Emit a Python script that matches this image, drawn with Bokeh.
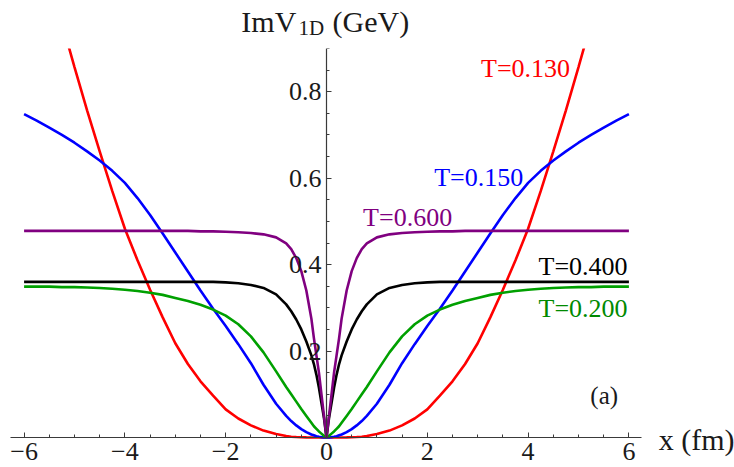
from bokeh.plotting import figure
from bokeh.layouts import column
from bokeh.models import Range1d, FixedTicker, Label, CustomJSTickFormatter
from bokeh.embed import file_html
from bokeh.resources import INLINE

# ---- data (curves are even in x; values for x >= 0) ----
x_half = [0.0, 0.05, 0.1, 0.15, 0.2, 0.25, 0.3, 0.4, 0.5, 0.6, 0.7, 0.8, 1.0,
          1.25, 1.5, 1.75, 2.0, 2.25, 2.5, 2.75, 3.0, 3.25, 3.5, 3.75, 4.0,
          4.25, 4.5, 4.75, 5.0, 5.25, 5.5, 5.75, 6.0]

imv_t0130 = [0.0, 0.0, 0.0, 0.0, 0.0, 0.0, 0.0001, 0.0002, 0.0005, 0.001, 0.0019, 0.0033, 0.008,
             0.016, 0.028, 0.044, 0.065, 0.097, 0.13, 0.17, 0.218, 0.278, 0.342, 0.41, 0.483,
             0.57, 0.662, 0.757, 0.857, 0.96, 1.065, 1.17, 1.28]

imv_t0150 = [0.0, 0.0002, 0.0008, 0.0018, 0.003, 0.005, 0.007, 0.0125, 0.0195, 0.028, 0.038, 0.05, 0.078,
             0.122, 0.172, 0.216, 0.258, 0.298, 0.34, 0.384, 0.428, 0.472, 0.515, 0.554, 0.589,
             0.617, 0.641, 0.662, 0.682, 0.7, 0.717, 0.733, 0.748]

imv_t0200 = [0.0, 0.004, 0.009, 0.014, 0.02, 0.026, 0.034, 0.05, 0.066, 0.083, 0.1, 0.117, 0.153,
             0.197, 0.234, 0.262, 0.282, 0.296, 0.307, 0.316, 0.323, 0.33, 0.335, 0.339, 0.342,
             0.344, 0.346, 0.347, 0.348, 0.348, 0.349, 0.349, 0.349]

imv_t0400 = [0.0, 0.045, 0.08, 0.115, 0.145, 0.17, 0.19, 0.222, 0.25, 0.273, 0.292, 0.308, 0.331,
             0.346, 0.353, 0.357, 0.359, 0.36, 0.36, 0.36, 0.36, 0.36, 0.36, 0.36, 0.36,
             0.36, 0.36, 0.36, 0.36, 0.36, 0.36, 0.36, 0.36]

imv_t0600 = [0.0, 0.05, 0.1, 0.15, 0.19, 0.23, 0.275, 0.34, 0.385, 0.415, 0.436, 0.449, 0.463,
             0.47, 0.473, 0.475, 0.476, 0.477, 0.477, 0.478, 0.478, 0.478, 0.478, 0.478, 0.478,
             0.478, 0.478, 0.478, 0.478, 0.478, 0.478, 0.478, 0.478]

series_names = ["T=0.130", "T=0.150", "T=0.200", "T=0.400", "T=0.600"]
series_values = [imv_t0130, imv_t0150, imv_t0200, imv_t0400, imv_t0600]

x_major_ticks = [-6, -4, -2, 0, 2, 4, 6]
x_minor_ticks = [-6, -5.5, -5, -4.5, -4, -3.5, -3, -2.5, -2, -1.5, -1, -0.5, 0,
                 0.5, 1, 1.5, 2, 2.5, 3, 3.5, 4, 4.5, 5, 5.5, 6]
y_major_ticks = [0.2, 0.4, 0.6, 0.8]
y_minor_ticks = [0.05, 0.1, 0.15, 0.2, 0.25, 0.3, 0.35, 0.4, 0.45, 0.5, 0.55, 0.6,
                 0.65, 0.7, 0.75, 0.8, 0.85, 0.9]


def mirror(half):
    # full curve from the even symmetry of the plotted functions
    return [v for v in reversed(half[1:])] + list(half)


x_full = [-v for v in reversed(x_half[1:])] + list(x_half)

# ---- styling ----
colors = {"T=0.130": "#ff0000", "T=0.150": "#0000ff", "T=0.200": "#00a000",
          "T=0.400": "#000000", "T=0.600": "#800080"}
text_colors = {"T=0.130": "#ff0000", "T=0.150": "#0000ff", "T=0.200": "#008a00",
               "T=0.400": "#000000", "T=0.600": "#800080"}
label_pos = {"T=0.130": (3.95, 0.853), "T=0.150": (3.02, 0.601), "T=0.600": (1.61, 0.509),
             "T=0.400": (5.09, 0.395), "T=0.200": (5.09, 0.299)}
FONT = "Liberation Serif"
AXIS_COLOR = "#3a3a3a"
TEXT_COLOR = "#1a1a1a"

x_range = Range1d(-6.468, 8.095)

# main plotting area: frame covers the whole canvas, axes cross at the origin
p = figure(width=734, height=419, output_backend="svg", toolbar_location=None,
           x_range=x_range, y_range=Range1d(-0.0694, 0.9),
           min_border_left=0, min_border_right=0, min_border_top=0, min_border_bottom=0)
p.grid.visible = False
p.outline_line_color = None

for name, vals in zip(series_names, series_values):
    p.line(x_full, mirror(vals), line_color=colors[name], line_width=2.6)

xa = p.xaxis[0]
xa.fixed_location = 0
xa.bounds = (-6.27, 6.25)
xa.ticker = FixedTicker(ticks=x_major_ticks, minor_ticks=x_minor_ticks)
xa.formatter = CustomJSTickFormatter(code="return tick < 0 ? '\\u2212' + Math.abs(tick) : String(tick);")
xa.axis_line_color = AXIS_COLOR
xa.axis_line_width = 1.2
xa.major_tick_line_color = AXIS_COLOR
xa.minor_tick_line_color = AXIS_COLOR
xa.major_tick_in = 5
xa.major_tick_out = 0
xa.minor_tick_in = 3
xa.minor_tick_out = 0
xa.major_label_standoff = 5
xa.major_label_text_font = FONT
xa.major_label_text_font_size = "26px"
xa.major_label_text_color = TEXT_COLOR

ya = p.yaxis[0]
ya.fixed_location = 0
ya.bounds = (0, 0.9)
ya.ticker = FixedTicker(ticks=y_major_ticks, minor_ticks=y_minor_ticks)
ya.axis_line_color = AXIS_COLOR
ya.axis_line_width = 1.2
ya.major_tick_line_color = AXIS_COLOR
ya.minor_tick_line_color = AXIS_COLOR
ya.major_tick_in = 5
ya.major_tick_out = 0
ya.minor_tick_in = 3
ya.minor_tick_out = 0
ya.major_label_standoff = 5
ya.major_label_text_font = FONT
ya.major_label_text_font_size = "26px"
ya.major_label_text_color = TEXT_COLOR

for name in series_names:
    lx, ly = label_pos[name]
    p.add_layout(Label(x=lx, y=ly, text=name, text_font=FONT, text_font_size="26px",
                       text_color=text_colors[name], text_align="center", text_baseline="middle"))

p.add_layout(Label(x=5.51, y=0.097, text="(a)", text_font=FONT, text_font_size="25px",
                   text_color=TEXT_COLOR, text_align="center", text_baseline="middle"))

p.add_layout(Label(x=6.59, y=-0.0045, text="x (fm)", text_font=FONT, text_font_size="30px",
                   text_color=TEXT_COLOR, text_align="left", text_baseline="alphabetic"))

# strip above the plot holding the y-axis title
top = figure(width=734, height=48, output_backend="svg", toolbar_location=None,
             x_range=x_range, y_range=Range1d(0, 48),
             x_axis_location=None, y_axis_location=None,
             min_border_left=0, min_border_right=0, min_border_top=0, min_border_bottom=0)
top.grid.visible = False
top.outline_line_color = None

top.add_layout(Label(x=-1.69, y=27, text="ImV", text_font=FONT, text_font_size="30px",
                     text_color=TEXT_COLOR, text_align="left", text_baseline="alphabetic"))
top.add_layout(Label(x=-0.556, y=21, text="1D", text_font=FONT, text_font_size="21px",
                     text_color=TEXT_COLOR, text_align="left", text_baseline="alphabetic"))
top.add_layout(Label(x=0.119, y=27, text="(GeV)", text_font=FONT, text_font_size="30px",
                     text_color=TEXT_COLOR, text_align="left", text_baseline="alphabetic"))

layout = column(top, p, spacing=0)
open("out.html", "w").write(file_html(layout, INLINE))
